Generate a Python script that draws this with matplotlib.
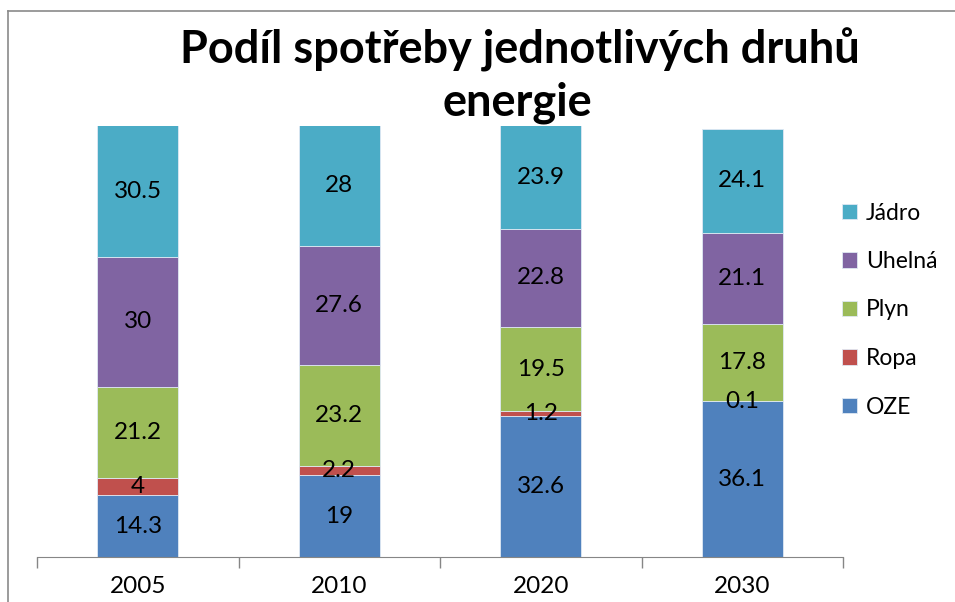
import numpy as np
import matplotlib.pyplot as plt
from matplotlib.lines import Line2D

years = ["2005", "2010", "2020", "2030"]
series = ["OZE", "Ropa", "Plyn", "Uhelná", "Jádro"]
oze = [14.3, 19, 32.6, 36.1]
ropa = [4, 2.2, 1.2, 0.1]
plyn = [21.2, 23.2, 19.5, 17.8]
uhelna = [30, 27.6, 22.8, 21.1]
jadro = [30.5, 28, 23.9, 24.1]
values = [oze, ropa, plyn, uhelna, jadro]
colors = ["#4F81BD", "#C0504D", "#9BBB59", "#8064A2", "#4BACC6"]

plt.rcParams['font.family'] = ['Lato', 'DejaVu Sans']

W, H = 955, 602
fig = plt.figure(figsize=(W / 100, H / 100), dpi=100)
ax = fig.add_axes([37 / W, (H - 557) / H, (843 - 37) / W, (557 - 125.5) / H])

x = np.arange(len(years))
bottom = np.zeros(len(years))
handles = []
for name, vals, col in zip(series, values, colors):
    vals = np.array(vals)
    b = ax.bar(x, vals, 0.4, bottom=bottom, color=col, label=name,
               edgecolor="#dfe8f3", linewidth=0.6)
    handles.append(b)
    for xi, v, bt in zip(x, vals, bottom):
        ax.text(xi, bt + v / 2, f"{v:g}", ha="center", va="center",
                fontsize=17.5, color="black")
    bottom += vals

ax.set_xlim(-0.5, len(years) - 0.5)
ax.set_ylim(0, 100)
ax.set_yticks([])
ax.set_xticks(x)
ax.set_xticklabels(years, fontsize=17.5)
ax.set_xticks(np.arange(-0.5, len(years)), minor=True)
ax.tick_params(axis="x", which="major", length=0, pad=14)
ax.tick_params(axis="x", which="minor", length=8, color="#868686", width=1)
for s in ["top", "right", "left"]:
    ax.spines[s].set_visible(False)
ax.spines["bottom"].set_color("#868686")

leg = fig.legend(handles[::-1], series[::-1], loc="center left",
                 bbox_to_anchor=(842 / W, 1 - 310 / H), frameon=False,
                 borderpad=0, borderaxespad=0,
                 fontsize=16.5, handlelength=0.65, handleheight=0.65,
                 labelspacing=1.2, handletextpad=0.4)

fig.text(520 / W, 1 - 50 / H, "Podíl spotřeby jednotlivých druhů", ha="center",
         va="center", fontsize=32.5, fontweight="bold")
fig.text(517 / W, 1 - 103 / H, "energie", ha="center", va="center",
         fontsize=32.5, fontweight="bold")

# chart border
fig.add_artist(Line2D([8 / W, 8 / W], [0, 1 - 11 / H], transform=fig.transFigure,
                      color="#8a8a8a", linewidth=1.2))
fig.add_artist(Line2D([8 / W, 1], [1 - 11 / H, 1 - 11 / H], transform=fig.transFigure,
                      color="#8a8a8a", linewidth=1.2))

fig.savefig("out.png", dpi=100)
